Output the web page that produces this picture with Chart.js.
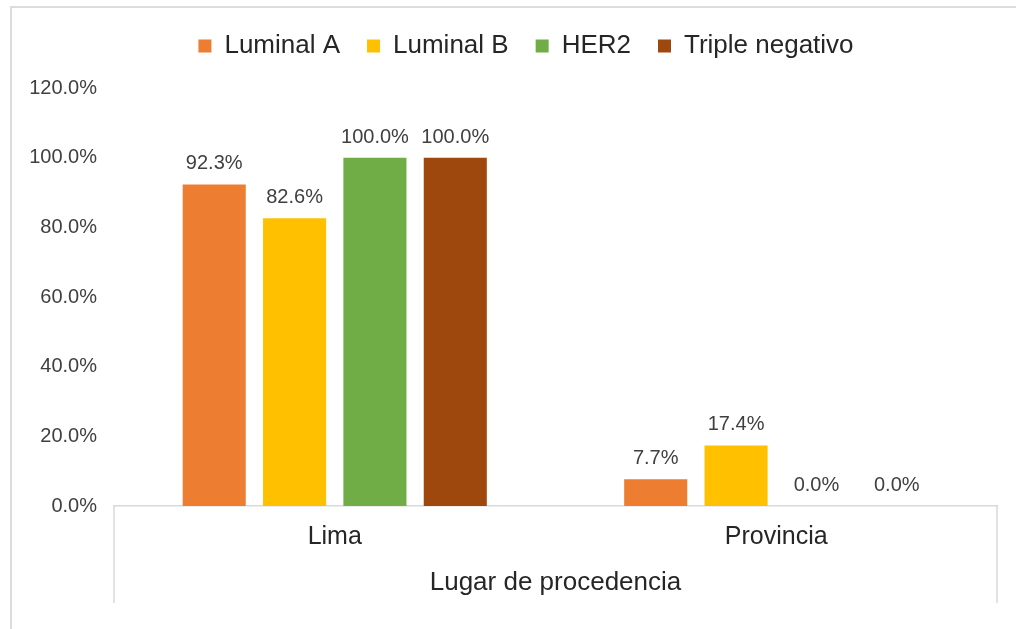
<!DOCTYPE html>
<html>
<head>
<meta charset="utf-8">
<script src="https://cdn.jsdelivr.net/npm/chart.js@4"></script>
<style>
  html, body { margin: 0; padding: 0; background: #ffffff; }
  #wrap { position: relative; width: 1016px; height: 629px; }
  canvas { display: block; }
</style>
</head>
<body>
<div id="wrap"><canvas id="c" width="1016" height="629"></canvas></div>
<script>
// ---- data ----
const categories = ["Lima", "Provincia"];
const seriesNames = ["Luminal A", "Luminal B", "HER2", "Triple negativo"];
const luminalA = [92.3, 7.7];
const luminalB = [82.6, 17.4];
const her2 = [100.0, 0.0];
const tripleNegativo = [100.0, 0.0];
const yTicks = [0, 20, 40, 60, 80, 100, 120];
const xAxisTitle = "Lugar de procedencia";

const colors = ["#ED7D31", "#FFC000", "#70AD47", "#9E480E"];
const seriesValues = [luminalA, luminalB, her2, tripleNegativo];

const FONT = "'Liberation Sans', Arial, sans-serif";

// outer frame (top + left lines) and axis box side lines
const framePlugin = {
  id: 'frame',
  beforeDraw(chart) {
    const ctx = chart.ctx;
    ctx.save();
    ctx.strokeStyle = '#dcdcdc';
    ctx.lineWidth = 2;
    ctx.beginPath();
    ctx.moveTo(11, 629);
    ctx.lineTo(11, 7);
    ctx.lineTo(1016, 7);
    ctx.stroke();
    ctx.restore();
  },
  afterDraw(chart) {
    const ctx = chart.ctx;
    const xs = chart.scales.x;
    ctx.save();
    ctx.strokeStyle = '#d9d9d9';
    ctx.lineWidth = 1.5;
    ctx.beginPath();
    ctx.moveTo(xs.left, xs.top);
    ctx.lineTo(xs.left, xs.bottom);
    ctx.moveTo(xs.right, xs.top);
    ctx.lineTo(xs.right, xs.bottom);
    ctx.stroke();
    ctx.restore();
  }
};

// value labels above bars
const valueLabels = {
  id: 'valueLabels',
  afterDatasetsDraw(chart) {
    const ctx = chart.ctx;
    ctx.save();
    ctx.font = "20px " + FONT;
    ctx.fillStyle = '#404040';
    ctx.textAlign = 'center';
    ctx.textBaseline = 'alphabetic';
    chart.data.datasets.forEach((ds, di) => {
      const meta = chart.getDatasetMeta(di);
      meta.data.forEach((bar, i) => {
        const v = ds.data[i];
        ctx.fillText(v.toFixed(1) + '%', bar.x, bar.y - 15);
      });
    });
    ctx.restore();
  }
};

// fix legend height so the plot area starts where the reference does,
// and nudge the legend block right to match the reference centring
const legendFit = {
  id: 'legendFit',
  beforeInit(chart) {
    const lg = chart.legend;
    if (lg) {
      const orig = lg.fit;
      lg.fit = function () { orig.call(this); this.height = 82; };
    }
  },
  afterLayout(chart) {
    const lg = chart.legend;
    if (lg) { lg.left += 43; }
  }
};

const PAD_LEFT = 12;

new Chart(document.getElementById('c'), {
  type: 'bar',
  data: {
    labels: categories,
    datasets: seriesNames.map((name, k) => ({
      label: name,
      data: seriesValues[k],
      backgroundColor: colors[k],
      borderWidth: 0,
      categoryPercentage: 0.728,
      barPercentage: 0.785
    }))
  },
  options: {
    responsive: false,
    animation: false,
    devicePixelRatio: 1,
    layout: { padding: { left: PAD_LEFT, right: 19, top: 6, bottom: 26 } },
    plugins: {
      legend: {
        position: 'top',
        align: 'center',
        labels: {
          boxWidth: 13,
          boxHeight: 13,
          padding: 27,
          color: '#262626',
          font: { family: FONT, size: 26 }
        }
      },
      tooltip: { enabled: false }
    },
    scales: {
      y: {
        min: 0,
        max: 120,
        afterBuildTicks(scale) { scale.ticks = yTicks.map(v => ({ value: v })); },
        afterFit(scale) { scale.width = 114 - PAD_LEFT; },
        grid: { display: false, drawTicks: false },
        border: { display: false },
        ticks: {
          padding: 17,
          color: '#404040',
          font: { family: FONT, size: 20 },
          callback: (v) => Number(v).toFixed(1) + '%'
        }
      },
      x: {
        offset: true,
        afterFit(scale) { scale.height = 97; },
        grid: { display: true, drawOnChartArea: false, drawTicks: false },
        border: { display: true, color: '#d9d9d9', width: 1.5 },
        ticks: {
          padding: 16,
          color: '#262626',
          font: { family: FONT, size: 25 }
        },
        title: {
          display: true,
          text: xAxisTitle,
          color: '#262626',
          font: { family: FONT, size: 26 },
          padding: { top: 0, bottom: 5 }
        }
      }
    }
  },
  plugins: [framePlugin, valueLabels, legendFit]
});
</script>
</body>
</html>
